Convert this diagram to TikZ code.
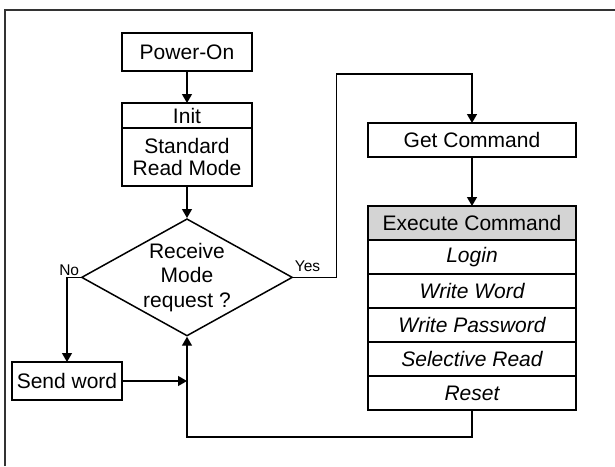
\documentclass[tikz,border=0pt]{standalone}
\usepackage{fontspec}
\setmainfont{Liberation Sans}
\usetikzlibrary{shapes.geometric, arrows.meta, positioning}

\begin{document}
\begin{tikzpicture}[x=1pt, y=-1pt, node distance=32pt, >={Triangle[length=9pt,width=10pt]}]

    % Define the styles for the nodes
    \tikzstyle{block} = [rectangle, draw, line width=1.5pt, outer sep=0pt, align=center, minimum width=130pt, font=\fontsize{21}{22}\selectfont]
    \tikzstyle{cmdrow} = [block, minimum width=208pt, minimum height=34pt, font=\fontsize{21}{22}\selectfont\itshape]
    \tikzstyle{decide} = [diamond, draw, line width=1.5pt, aspect=1.8, inner sep=0pt, minimum width=208pt, minimum height=114pt, align=center, font=\fontsize{21}{24.5}\selectfont]
    \tikzstyle{link} = [draw, line width=1.3pt]
    \tikzstyle{answer} = [inner sep=1pt, font=\fontsize{15.5}{17}\selectfont]

    \useasboundingbox (0,0) rectangle (615,466);

    % Frame
    \draw[line width=1.8pt, black!80] (5,466) -- (5,10) -- (615,10);

    % Nodes
    \node (power) [block, minimum height=38pt] at (187,52) {Power-On};
    \node (init) [block, minimum height=25pt, below=of power] {Init};
    \node (initread) [block, minimum height=58pt, below=0pt of init] {Standard\\Read Mode};
    \node (mode) [decide, below=of initread] {Receive\\Mode\\request ?};
    \node (send) [block, minimum width=110pt, minimum height=38pt, inner xsep=3pt] at (67,381) {Send word};
    \node (getcmd) [block, minimum width=208pt, minimum height=34pt] at (472,140) {Get Command};
    \node (exec) [block, minimum width=208pt, minimum height=34pt, fill=black!17, below=49pt of getcmd] {Execute Command};
    \node (login) [cmdrow, below=0pt of exec] {Login};
    \node (wword) [cmdrow, below=0pt of login] {Write Word};
    \node (wpass) [cmdrow, below=0pt of wword] {Write Password};
    \node (sread) [cmdrow, below=0pt of wpass] {Selective Read};
    \node (reset) [cmdrow, below=0pt of sread] {Reset};

    \coordinate (sendjoin) at (mode.south |- send.east);
    \coordinate (yestop) at ([yshift=49pt]getcmd.north);

    % Arrows
    \draw[->, link] (power) -- (init);
    \draw[->, link] (initread) -- (mode);
    \draw[->, link] (mode.west) node[answer, anchor=south east] {No} -| (send.north);
    \draw[->, link] (send.east) -- (sendjoin);
    \draw[->, link] (reset.south) -- ++(0,27) -| (mode.south);
    \draw[->, link] (mode.east) node[answer, anchor=south west, yshift=4pt] {Yes} -- ++(43,0) |- (yestop) -- (getcmd.north);
    \draw[->, link] (getcmd) -- (exec);

\end{tikzpicture}
\end{document}
